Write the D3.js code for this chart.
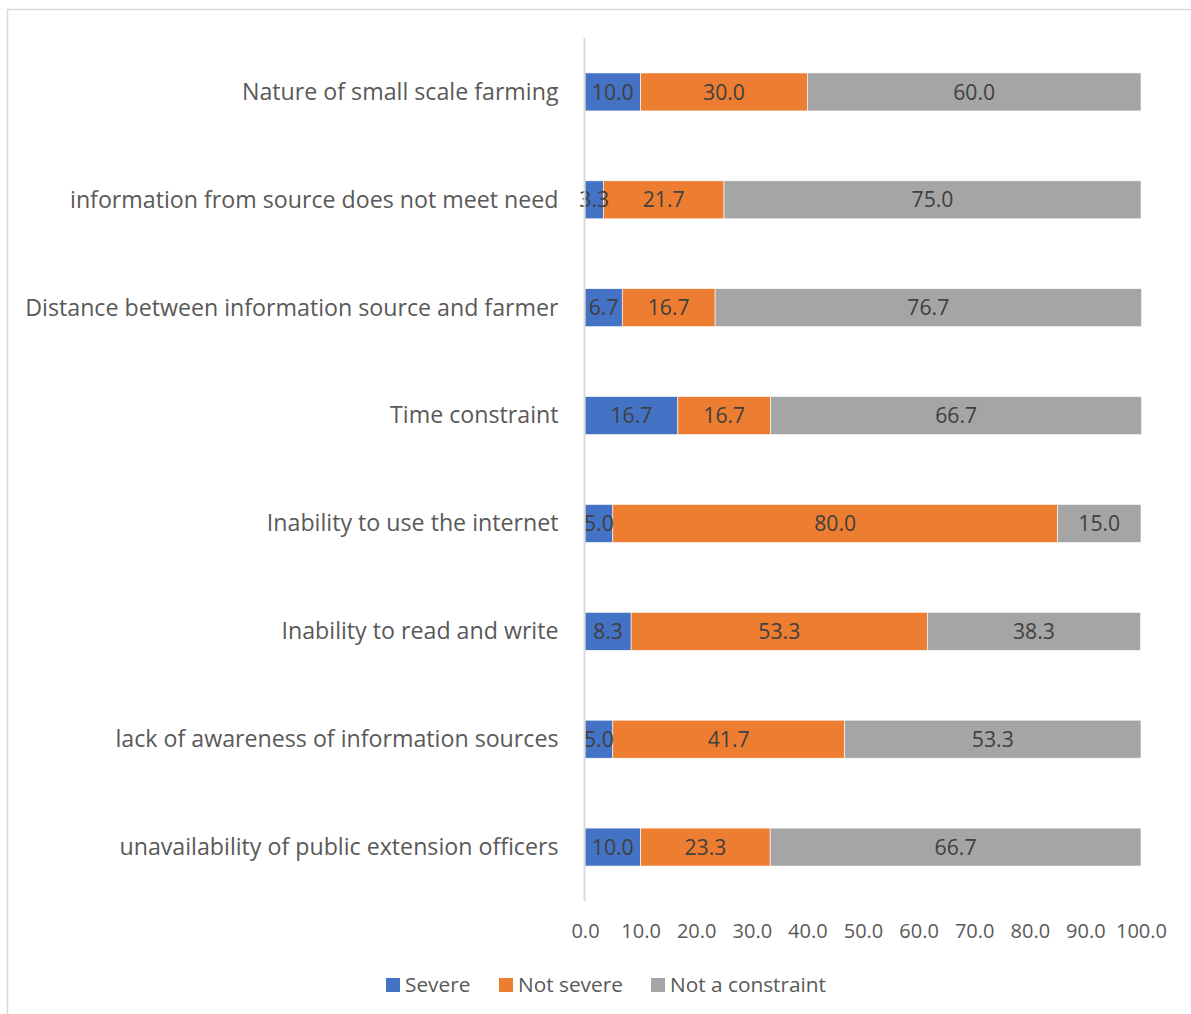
<!DOCTYPE html>
<html>
<head>
<meta charset="utf-8">
<script src="https://cdn.jsdelivr.net/npm/d3@7"></script>
<style>
  html, body { margin: 0; padding: 0; background: #fff; }
  svg { display: block; }
</style>
</head>
<body>
<svg id="chart" width="1191" height="1014"></svg>
<script>
// Constraints to accessing agricultural information (percent of respondents)
const categories = [
  "Nature of small scale farming",
  "information from source does not meet need",
  "Distance between information source and farmer",
  "Time constraint",
  "Inability to use the internet",
  "Inability to read and write",
  "lack of awareness of information sources",
  "unavailability of public extension officers"
];
const severe        = [10.0, 3.3, 6.7, 16.7, 5.0, 8.3, 5.0, 10.0];
const notSevere     = [30.0, 21.7, 16.7, 16.7, 80.0, 53.3, 41.7, 23.3];
const notConstraint = [60.0, 75.0, 76.7, 66.7, 15.0, 38.3, 53.3, 66.7];
const seriesNames = ["Severe", "Not severe", "Not a constraint"];
const xTicks = [0, 10, 20, 30, 40, 50, 60, 70, 80, 90, 100];

const colors = ["#4472C4", "#ED7D31", "#A5A5A5"];
const FONT = "'Open Sans', Lato, sans-serif";

const svg = d3.select("#chart");

// outer frame
svg.append("rect")
  .attr("x", 7.5).attr("y", 9.5)
  .attr("width", 1200).attr("height", 1020)
  .attr("fill", "none").attr("stroke", "#D9D9D9").attr("stroke-width", 1.5);

const rows = categories.map((c, i) => ({
  cat: c,
  vals: [severe[i], notSevere[i], notConstraint[i]]
}));

const x = d3.scaleLinear().domain([0, 100]).range([585, 1141]);
const y = d3.scaleBand().domain(categories).range([38, 901]).paddingInner(0.648).paddingOuter(0.324);

// stacked segments
const stack = d3.stack().keys([0, 1, 2]).value((d, k) => d.vals[k]);
const layers = stack(rows);

const g = svg.append("g");
layers.forEach((layer, k) => {
  g.selectAll(null).data(layer).enter().append("rect")
    .attr("x", d => x(d[0]))
    .attr("y", d => y(d.data.cat))
    .attr("width", d => x(d[1]) - x(d[0]))
    .attr("height", y.bandwidth())
    .attr("fill", colors[k])
    .attr("stroke", "#fff").attr("stroke-width", 0.6);
});

// value labels
layers.forEach((layer, k) => {
  g.selectAll(null).data(layer).enter().append("text")
    .attr("x", d => (x(d[0]) + x(d[1])) / 2)
    .attr("y", d => y(d.data.cat) + y.bandwidth() / 2)
    .attr("dy", "0.36em")
    .attr("text-anchor", "middle")
    .attr("font-family", FONT).attr("font-size", 21.2)
    .attr("fill", "#404040")
    .text(d => (d[1] - d[0]).toFixed(1));
});

// vertical category axis line
svg.append("line")
  .attr("x1", 584.5).attr("x2", 584.5)
  .attr("y1", 38).attr("y2", 901)
  .attr("stroke", "#D9D9D9").attr("stroke-width", 2);

// category labels
const yAxis = d3.axisLeft(y).tickSize(0).tickPadding(26);
const yg = svg.append("g").attr("transform", "translate(584.5,0)").call(yAxis);
yg.select(".domain").remove();
yg.selectAll("text")
  .attr("font-family", FONT).attr("font-size", 23.2)
  .attr("dy", "0.34em")
  .attr("fill", "#595959");

// value axis tick labels
const xAxis = d3.axisBottom(x).tickValues(xTicks).tickSize(0).tickPadding(0)
  .tickFormat(d => d.toFixed(1));
const xg = svg.append("g").attr("transform", "translate(0,924)").call(xAxis);
xg.select(".domain").remove();
xg.selectAll("text")
  .attr("font-family", FONT).attr("font-size", 20)
  .attr("fill", "#595959");

// legend
const legendX = [386, 499, 651];
const lg = svg.append("g");
seriesNames.forEach((name, k) => {
  lg.append("rect")
    .attr("x", legendX[k]).attr("y", 978)
    .attr("width", 14).attr("height", 14)
    .attr("fill", colors[k]);
  lg.append("text")
    .attr("x", legendX[k] + 19).attr("y", 992)
    .attr("font-family", FONT).attr("font-size", 20.8)
    .attr("fill", "#595959")
    .text(name);
});
</script>
</body>
</html>
